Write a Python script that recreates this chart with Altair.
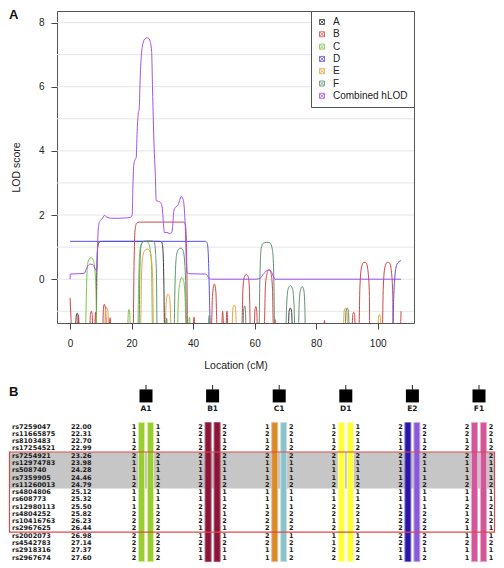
import altair as alt
import pandas as pd

# ---------------- Panel A data ----------------
SERIES = ["A", "B", "C", "D", "E", "F", "Combined hLOD"]
COLORS = ["#3a3a3a", "#d24545", "#78c646", "#5b4ef2", "#e9a43e", "#5f9073", "#a24ff2"]

LOD_A = [(0, -1.6), (1.7, -1.6), (2.0, -1.15), (2.3, -1.06), (2.6, -1.12), (2.9, -1.6),
         (8.5, -1.6), (8.7, 0.2), (9.0, 1.0), (9.5, 1.16), (10.5, 1.18), (29.0, 1.18),
         (29.8, 1.15), (30.2, 0.9), (30.5, -0.2), (30.7, -1.6), (70.9, -1.6), (71.2, -1.0),
         (71.6, -0.9), (72.0, -1.0), (72.3, -1.6), (107.6, -1.6)]
LOD_B = [(0, -0.58), (0.3, -1.2), (0.5, -1.6), (2.3, -1.6), (2.7, -1.13), (3.1, -1.6),
         (6.4, -1.6), (6.6, -1.1), (6.9, -1.0), (7.2, -1.1), (7.4, -1.6), (7.9, -1.6),
         (8.3, -1.03), (8.6, -1.6), (10.6, -1.6), (10.8, -1.0), (11.1, -0.78), (11.5, -0.9),
         (11.9, -1.6), (12.6, -1.6), (13.0, -1.2), (13.4, -1.6), (20.5, -1.6), (20.8, 0.5),
         (21.1, 1.5), (21.6, 1.74), (22.5, 1.78), (37.0, 1.78), (37.5, 1.7), (37.8, 1.2),
         (38.0, 0.0), (38.2, -1.6), (39.9, -1.6), (40.3, -1.18), (40.7, -1.6), (45.9, -1.6),
         (46.3, -0.5), (46.9, -0.15), (47.4, -0.4), (47.8, -1.6), (49.2, -1.6), (49.6, -1.0),
         (50.0, -1.6), (50.6, -1.6), (51.0, -1.0), (51.4, -1.6), (55.8, -1.6), (56.2, -0.3),
         (56.7, 0.08), (57.3, 0.15), (57.9, 0.08), (58.3, -0.3), (58.6, -1.6), (59.8, -1.6),
         (60.1, -0.95), (60.4, -0.85), (60.7, -1.0), (60.9, -1.6), (63.1, -1.6), (63.5, -0.2),
         (64.1, 0.2), (64.7, 0.3), (65.3, 0.2), (65.8, -0.3), (66.1, -1.6), (66.3, -1.6),
         (66.6, -1.25), (66.9, -1.6), (82.4, -1.6), (82.7, -1.28), (83.0, -1.6), (91.6, -1.6),
         (91.9, -1.1), (92.2, -1.03), (92.5, -1.1), (92.7, -1.6), (93.9, -1.6), (94.2, -0.3),
         (94.7, 0.35), (95.5, 0.53), (96.3, 0.5), (96.9, 0.2), (97.3, -0.5), (97.4, -1.6),
         (101.5, -1.6), (101.8, -0.3), (102.3, 0.35), (103.1, 0.53), (103.9, 0.5), (104.5, 0.2),
         (104.9, -0.5), (105.0, -1.6), (107.3, -1.6), (107.6, -1.0)]
LOD_C = [(0, -1.6), (5.0, -1.6), (5.3, -0.5), (5.6, 0.4), (6.2, 0.63), (6.8, 0.67), (7.5, 0.6),
         (8.0, 0.35), (8.4, -0.3), (8.7, -1.6), (18.7, -1.6), (18.9, -1.1), (19.1, -0.95),
         (19.4, -1.1), (19.6, -1.6), (22.0, -1.6), (22.3, 0.0), (22.7, 0.9), (23.3, 1.12),
         (24.3, 1.18), (25.3, 1.15), (26.0, 0.95), (26.5, 0.3), (26.8, -1.6), (34.9, -1.6),
         (35.2, -0.6), (35.7, -0.1), (36.3, 0.05), (36.9, -0.05), (37.4, -0.6), (37.7, -1.6),
         (38.4, -1.6), (38.8, -1.18), (39.2, -1.6), (107.6, -1.6)]
LOD_D = [(0, 1.18), (44.0, 1.18), (44.6, 1.12), (45.0, 0.6), (45.3, -0.5), (45.6, -1.6),
         (104.9, -1.6), (105.2, -0.6), (105.6, 0.1), (106.2, 0.45), (107.0, 0.55), (107.6, 0.58)]
LOD_E = [(0, -1.6), (11.2, -1.6), (11.5, -1.0), (11.9, -0.88), (12.3, -1.0), (12.6, -1.6),
         (22.9, -1.6), (23.2, 0.0), (23.6, 0.7), (24.3, 0.9), (25.1, 0.94), (25.9, 0.88),
         (26.5, 0.6), (26.9, -0.2), (27.1, -1.6), (30.9, -1.6), (31.2, -0.8), (31.7, -0.47),
         (32.2, -0.5), (32.6, -0.9), (32.8, -1.6), (52.6, -1.6), (52.9, -0.95), (53.3, -0.8),
         (53.8, -0.9), (54.1, -1.6), (88.8, -1.6), (89.1, -1.0), (89.5, -0.9), (90.0, -1.0),
         (90.3, -1.6), (100.0, -1.6), (100.3, -1.15), (100.6, -1.1), (100.9, -1.2),
         (101.1, -1.6), (107.6, -1.6)]
LOD_F = [(0, -1.6), (22.4, -1.6), (22.7, 0.3), (23.1, 1.05), (23.7, 1.17), (24.5, 1.19),
         (26.8, 1.19), (27.4, 1.15), (27.8, 0.8), (28.1, 0.0), (28.3, -1.6), (31.1, -1.6),
         (31.4, -1.22), (31.7, -1.6), (33.8, -1.6), (34.1, -0.2), (34.6, 0.75), (35.3, 0.94),
         (36.0, 0.97), (36.7, 0.9), (37.2, 0.6), (37.6, -0.2), (37.9, -1.6), (44.9, -1.6),
         (45.1, -1.2), (45.3, -1.12), (45.5, -1.3), (45.6, -1.6), (56.2, -1.6), (56.4, -1.0),
         (56.7, -0.83), (57.0, -0.95), (57.2, -1.6), (61.4, -1.6), (61.7, 0.0), (62.1, 0.95),
         (62.8, 1.12), (63.8, 1.15), (65.0, 1.13), (65.8, 0.9), (66.2, 0.2), (66.5, -1.6),
         (70.1, -1.6), (70.4, -0.8), (70.9, -0.3), (71.6, -0.2), (72.3, -0.3), (72.8, -0.8),
         (73.1, -1.6), (74.2, -1.6), (74.5, -0.7), (75.0, -0.3), (75.5, -0.23), (76.0, -0.35),
         (76.3, -0.8), (76.5, -1.6), (89.4, -1.6), (89.7, -1.0), (90.1, -0.9), (90.5, -1.0),
         (90.8, -1.6), (107.6, -1.6)]
LOD_COMBINED = [(0, 0.0), (0.1, 0.16), (2.5, 0.17), (4.6, 0.18), (5.2, 0.3), (5.8, 0.42),
                (6.6, 0.47), (7.3, 0.46), (7.9, 0.38), (8.4, 0.28), (8.7, 0.3), (8.9, 1.0),
                (9.2, 1.6), (9.6, 1.8), (10.4, 1.88), (11.2, 1.99), (12.0, 1.93), (13.5, 1.9),
                (16.0, 1.9), (18.0, 1.91), (19.6, 1.93), (20.2, 2.0), (20.4, 2.8), (20.7, 3.55),
                (21.1, 3.72), (21.5, 3.8), (21.8, 4.6), (22.1, 5.1), (22.5, 5.35), (22.8, 6.3),
                (23.2, 7.0), (23.7, 7.35), (24.4, 7.5), (25.2, 7.53), (25.9, 7.45), (26.5, 7.1),
                (26.8, 6.0), (27.1, 4.8), (27.4, 3.9), (27.7, 3.3), (28.0, 2.45), (28.6, 2.43),
                (29.5, 2.38), (30.0, 2.2), (30.3, 1.8), (30.7, 1.45), (31.5, 1.46), (32.3, 1.42),
                (33.0, 1.45), (33.4, 1.7), (33.7, 2.1), (34.3, 2.25), (35.0, 2.3), (35.6, 2.45),
                (36.1, 2.58), (36.7, 2.5), (37.2, 2.1), (37.5, 1.5), (37.8, 0.5), (38.1, 0.19),
                (39.0, 0.17), (44.0, 0.16), (44.6, 0.12), (45.2, 0.02), (46.0, 0.0), (60.5, 0.0),
                (61.8, 0.03), (62.8, 0.15), (63.8, 0.26), (64.6, 0.29), (65.4, 0.24), (66.0, 0.1),
                (66.6, 0.0), (107.6, 0.0)]
CURVES = [LOD_A, LOD_B, LOD_C, LOD_D, LOD_E, LOD_F, LOD_COMBINED]

GRID_LINES = [-1, 0, 1, 2, 3, 4, 5, 6, 7, 8]
Y_TICKS = [0, 2, 4, 6, 8]
X_TICKS = [0, 20, 40, 60, 80, 100]

# ---------------- Panel B data ----------------
SNPS = ["rs7259047", "rs11665875", "rs8103483", "rs17254521", "rs7254921", "rs12974783",
        "rs508740", "rs7359905", "rs11260013", "rs4804806", "rs608773", "rs12980113",
        "rs4804252", "rs10416763", "rs2967625", "rs2002073", "rs4542783", "rs2918316",
        "rs2967674"]
POS_CM = [22.00, 22.31, 22.70, 22.99, 23.26, 23.98, 24.28, 24.46, 24.79, 25.12, 25.32,
          25.50, 25.82, 26.23, 26.44, 26.98, 27.14, 27.37, 27.60]
INDIVIDUALS = ["A1", "B1", "C1", "D1", "E2", "F1"]
HAP_LEFT = [
    [1, 1, 1, 2, 2, 1, 1, 1, 2, 1, 1, 1, 2, 2, 2, 2, 2, 2, 2],
    [2, 2, 1, 2, 2, 1, 1, 1, 2, 1, 1, 2, 1, 2, 1, 1, 2, 1, 1],
    [1, 2, 1, 2, 2, 1, 1, 1, 2, 1, 1, 1, 2, 2, 2, 2, 2, 1, 1],
    [1, 2, 1, 2, 2, 1, 1, 1, 2, 1, 1, 2, 2, 1, 2, 1, 1, 2, 2],
    [2, 1, 1, 1, 2, 1, 1, 1, 2, 1, 1, 1, 2, 2, 2, 2, 2, 1, 1],
    [2, 2, 1, 2, 2, 1, 1, 1, 2, 1, 1, 2, 1, 2, 1, 1, 2, 1, 1],
]
HAP_RIGHT = [
    [1, 1, 1, 2, 2, 1, 1, 1, 2, 1, 1, 1, 2, 2, 2, 2, 2, 2, 2],
    [2, 2, 1, 2, 2, 1, 1, 1, 2, 1, 1, 2, 1, 2, 1, 1, 2, 1, 1],
    [2, 2, 1, 2, 2, 1, 1, 1, 2, 1, 1, 1, 2, 2, 2, 1, 2, 1, 2],
    [1, 2, 1, 2, 2, 1, 1, 1, 2, 1, 1, 2, 2, 1, 2, 1, 2, 2, 2],
    [2, 2, 1, 2, 2, 1, 1, 1, 2, 1, 1, 1, 2, 2, 2, 2, 2, 1, 2],
    [2, 2, 1, 2, 2, 1, 1, 1, 2, 1, 1, 2, 1, 2, 1, 1, 2, 1, 1],
]
BAR_LEFT = ["#9acd32", "#8b1538", "#d98a2b", "#ffff33", "#2b14a8", "#d4569a"]
BAR_RIGHT = ["#9acd32", "#8b1538", "#8cc2cb", "#ffff33", "#8a5ad6", "#d4569a"]
BAR_LEFT_EDGE = ["#d6ee9c", "#b0566f", "#eebf86", "#ffffb0", "#8678cc", "#eaa8cb"]
BAR_RIGHT_EDGE = ["#d6ee9c", "#b0566f", "#c6e2e6", "#ffffb0", "#c4aeee", "#eaa8cb"]
SHADED = (4, 8)   # rows (0-based) in the grey band
BOXED = (4, 14)   # rows (0-based) inside the red box

FONT = "Liberation Sans"
TFONT = "DejaVu Sans"

# ---------------- Panel A ----------------
rows = []
for s, pts in zip(SERIES, CURVES):
    for cm, lod in pts:
        rows.append({"series": s, "cM": cm, "lod": lod})
lod_df = pd.DataFrame(rows)

xs = alt.Scale(domain=[-4.25, 111.8], nice=False, zero=False)
ys = alt.Scale(domain=[-1.365, 8.36], nice=False, zero=False)
x_axis = alt.Axis(values=X_TICKS, title="Location (cM)", grid=False, domain=False,
                  tickSize=6, tickColor="#444", labelPadding=9, labelFontSize=10,
                  labelColor="#222", titleFontSize=10.5, titleFontWeight="normal",
                  titleColor="#222", titlePadding=12, labelFlush=False, labelFont=FONT,
                  titleFont=FONT)
y_axis = alt.Axis(values=Y_TICKS, title="LOD score", grid=False, domain=False,
                  tickSize=6, tickColor="#444", labelPadding=7, labelFontSize=10,
                  labelColor="#222", titleFontSize=10.5, titleFontWeight="normal",
                  titleColor="#222", titlePadding=17, labelFlush=False, labelFont=FONT,
                  titleFont=FONT)

grid = alt.Chart(pd.DataFrame({"v": GRID_LINES})).mark_rule(
    color="#e6e6e6", strokeWidth=1
).encode(y=alt.Y("v:Q", scale=ys, axis=y_axis))

lines = alt.Chart(lod_df).mark_line(strokeWidth=1, clip=True, interpolate="monotone").encode(
    x=alt.X("cM:Q", scale=xs, axis=x_axis),
    y=alt.Y("lod:Q", scale=ys, axis=y_axis),
    color=alt.Color(
        "series:N",
        scale=alt.Scale(domain=SERIES, range=COLORS),
        legend=alt.Legend(
            title=None, orient="top-right", offset=0, strokeColor="#555",
            fillColor="white", padding=6, cornerRadius=0,
            symbolType="M-1,-1L1,-1L1,1L-1,1Z M-1,-1L1,1 M-1,1L1,-1",
            symbolSize=25, symbolStrokeWidth=1, symbolFillColor="transparent",
            symbolOpacity=0.8,
            labelFontSize=10, labelColor="#222", labelOffset=6, rowPadding=2.3,
            labelFont=FONT,
        ),
    ),
)

label_a = alt.Chart(pd.DataFrame({"t": ["A"]})).mark_text(
    align="left", baseline="top", fontSize=13, fontWeight="bold", color="#111", font=FONT
).encode(text="t:N", x=alt.value(-48), y=alt.value(-2))

panel_a = alt.layer(grid, lines, label_a).properties(
    width=357, height=312, view=alt.ViewBackground(stroke="#555", strokeWidth=1)
)

# ---------------- Panel B ----------------
COL_PX = 66.6        # pixel distance between individuals
COL0_PX = 145.0      # page x of first individual


def col(px):
    return (px - COL0_PX) / COL_PX


Y_TOP = -5.7
Y_BOTTOM = 18.6
xb = alt.Scale(domain=[col(56), col(494)], nice=False, zero=False)
yb = alt.Scale(domain=[Y_TOP, Y_BOTTOM], nice=False, zero=False, reverse=True)
XB = lambda f: alt.X(f, scale=xb, axis=None)
YB = lambda f: alt.Y(f, scale=yb, axis=None)

n = len(SNPS)
snp_df = pd.DataFrame({"snp": SNPS, "pos": POS_CM, "row": list(range(n)),
                       "cn": col(11), "cp": col(70)})

allele_rows = []
for i, ind in enumerate(INDIVIDUALS):
    for r in range(n):
        allele_rows.append({"c": i, "row": r, "l": str(HAP_LEFT[i][r]), "r": str(HAP_RIGHT[i][r])})
allele_df = pd.DataFrame(allele_rows)

bar_rows = []
for i in range(len(INDIVIDUALS)):
    bar_rows.append({"x1": i + col(COL0_PX - 7.5), "x2": i + col(COL0_PX - 1.5),
                     "fill": BAR_LEFT[i], "edge": BAR_LEFT_EDGE[i]})
    bar_rows.append({"x1": i + col(COL0_PX + 1.5), "x2": i + col(COL0_PX + 7.5),
                     "fill": BAR_RIGHT[i], "edge": BAR_RIGHT_EDGE[i]})
bar_df = pd.DataFrame(bar_rows)
bar_df["y1"] = -0.55
bar_df["y2"] = n - 0.45

ind_df = pd.DataFrame({"ind": INDIVIDUALS, "c": list(range(len(INDIVIDUALS)))})
ind_df["ytop"] = Y_TOP
ind_df["ybot"] = -5.05
ind_df["ysq"] = -4.2
ind_df["ylab"] = -2.35

band_df = pd.DataFrame({"x1": [col(8.5)], "x2": [col(494)],
                        "y1": [SHADED[0] - 0.5], "y2": [SHADED[1] + 0.5]})
box_df = pd.DataFrame({"x1": [col(8.5)], "x2": [col(493.5)],
                       "y1": [BOXED[0] - 0.5], "y2": [BOXED[1] + 0.5]})

TXT = dict(baseline="middle", fontSize=6.5, fontWeight="bold", color="#1a1a1a", font=TFONT)

band = alt.Chart(band_df).mark_rect(color="#c6c6c6").encode(
    x=XB("x1:Q"), x2="x2:Q", y=YB("y1:Q"), y2="y2:Q")
bars = alt.Chart(bar_df).mark_rect(strokeWidth=1).encode(
    x=XB("x1:Q"), x2="x2:Q", y=YB("y1:Q"), y2="y2:Q",
    fill=alt.Fill("fill:N", scale=None), stroke=alt.Stroke("edge:N", scale=None))
names = alt.Chart(snp_df).mark_text(align="left", **TXT).encode(
    x=XB("cn:Q"), y=YB("row:Q"), text="snp:N")
poss = alt.Chart(snp_df).mark_text(align="left", **TXT).encode(
    x=XB("cp:Q"), y=YB("row:Q"), text=alt.Text("pos:Q", format=".2f"))
left_d = alt.Chart(allele_df).mark_text(align="center", dx=-12, **TXT).encode(
    x=XB("c:Q"), y=YB("row:Q"), text="l:N")
right_d = alt.Chart(allele_df).mark_text(align="center", dx=12, **TXT).encode(
    x=XB("c:Q"), y=YB("row:Q"), text="r:N")
stems = alt.Chart(ind_df).mark_rule(color="#222", strokeWidth=1).encode(
    x=XB("c:Q"), y=YB("ytop:Q"), y2="ybot:Q")
squares = alt.Chart(ind_df).mark_square(size=169, color="black", opacity=1).encode(
    x=XB("c:Q"), y=YB("ysq:Q"))
ind_labels = alt.Chart(ind_df).mark_text(
    align="center", baseline="middle", fontSize=7.5, fontWeight="bold", color="#1a1a1a",
    font=TFONT
).encode(x=XB("c:Q"), y=YB("ylab:Q"), text="ind:N")
box = alt.Chart(box_df).mark_rect(fillOpacity=0, stroke="#e04848", strokeWidth=1.2).encode(
    x=XB("x1:Q"), x2="x2:Q", y=YB("y1:Q"), y2="y2:Q")
label_b = alt.Chart(pd.DataFrame({"t": ["B"]})).mark_text(
    align="left", baseline="top", fontSize=13, fontWeight="bold", color="#111", font=FONT
).encode(text="t:N", x=alt.value(-48), y=alt.value(1))

panel_b = alt.layer(band, bars, names, poss, left_d, right_d, stems, squares, ind_labels,
                    box, label_b).properties(
    width=438, height=177, view=alt.ViewBackground(stroke="transparent")
)

chart = alt.vconcat(panel_a, panel_b, spacing=62, bounds="flush").resolve_legend(
    color="independent"
).properties(
    padding={"left": 0, "top": 0, "right": 0, "bottom": 0}
).configure(font=FONT)

chart.save("out.html", embed_options={"renderer": "svg", "actions": False})
